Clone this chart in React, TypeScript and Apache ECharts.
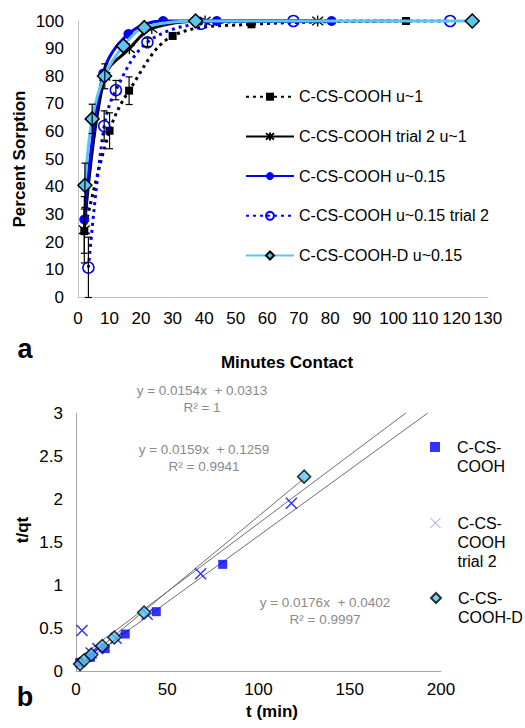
import React, { useEffect, useRef } from "react";
import * as echarts from "echarts";

// ---------- Top chart (a): Percent Sorption vs Minutes Contact ----------
const tU1 = [2, 10, 16.2, 30, 55, 104];
const pU1 = [24, 60.3, 74.8, 94.6, 98.8, 100];
const eU1 = [8, 6.5, 5, 1, 0, 0];

const tT2U1 = [2, 8.5, 16.3, 23.4, 40.3, 76];
const pT2U1 = [24.5, 80, 90, 97.3, 100, 100];
const eT2U1 = [12, 4.5, 0, 0, 0, 0];

const tU015 = [2, 8, 16, 27, 44, 80.4];
const pU015 = [28.2, 81, 95.3, 100, 100, 100];

const tU015T2 = [3.3, 8.3, 12, 22, 39, 68.3, 118];
const pU015T2 = [10.8, 62, 75, 92.3, 99, 100, 100];
const eU015T2 = [11, 5.5, 3.5, 1.5, 0, 0, 0];

const tD = [2.2, 4.5, 8.4, 14.4, 21, 37.3, 125];
const pD = [40.6, 64.6, 80.1, 91, 97.6, 100, 100];
const eD = [8, 5.3, 0, 0, 0, 0, 0];

const topNames = [
  "C-CS-COOH u~1",
  "C-CS-COOH trial 2 u~1",
  "C-CS-COOH u~0.15",
  "C-CS-COOH u~0.15 trial 2",
  "C-CS-COOH-D u~0.15",
];

// ---------- Bottom chart (b): t/qt vs t (min) ----------
const qCOOH = [0.1, 0.16, 0.26, 0.43, 0.69, 1.24]; // at tU015
const qT2 = [0.47, 0.21, 0.26, 0.38, 0.66, 1.13, 1.95]; // at tU015T2
const qD = [0.08, 0.125, 0.19, 0.29, 0.39, 0.68, 2.26]; // at tD

const bottomNames = ["C-CS-COOH", "C-CS-COOH trial 2", "C-CS-COOH-D"];
const bottomLegendLines = [["C-CS-", "COOH"], ["C-CS-", "COOH", "trial 2"], ["C-CS-", "COOH-D"]];
const trendSlope = [0.0154, 0.0159, 0.0176];
const trendIntercept = [0.0313, 0.1259, 0.0402];
const trendEnd = [192.8, 180.8, 125];
const trendLabels = [
  "y = 0.0154x  + 0.0313\nR² = 1",
  "y = 0.0159x  + 0.1259\nR² = 0.9941",
  "y = 0.0176x  + 0.0402\nR² = 0.9997",
];

const FONT = "'Liberation Sans', Arial, sans-serif";
const BLUE = "#0000FF";
const LIGHT = "#5BC5F2";
const STAR = "path://M0,0L10,10M10,0L0,10M5,-1.5L5,11.5";
const CROSS = "path://M0,0L10,10M10,0L0,10";

const zip = (a: number[], b: number[]) => a.map((v, i) => [v, b[i]]);
const bars = (t: number[], p: number[], e: number[]) =>
  t.map((v, i) => [v, Math.max(0, p[i] - e[i]), p[i] + e[i]]).filter((_, i) => e[i] > 0);

export default function App() {
  const ref = useRef<HTMLDivElement>(null);
  useEffect(() => {
    if (!ref.current) return;
    const chart = echarts.init(ref.current, undefined, { renderer: "svg" });
    const axisLabel = { fontSize: 17, color: "#000", fontFamily: FONT };
    const errData = [
      ...bars(tU1, pU1, eU1),
      ...bars(tT2U1, pT2U1, eT2U1),
      ...bars(tU015T2, pU015T2, eU015T2),
      ...bars(tD, pD, eD),
    ];
    const legendTxt = {
      fontSize: 16,
      lineHeight: 19,
      color: "#000",
      fontFamily: FONT,
      padding: [0, 0, 0, 12],
    };
    // prepend blank lines so the first text line sits beside the marker
    const wrapLegend = (lines: string[]) =>
      "\n".repeat(lines.length - 1) + lines.join("\n");
    const option: any = {
      animation: false,
      textStyle: { fontFamily: FONT },
      grid: [
        { left: 78, right: 37, top: 21, bottom: 430.5 },
        { left: 76, right: 84, top: 413, bottom: 57 },
      ],
      xAxis: [
        {
          gridIndex: 0, type: "value", min: 0, max: 130, interval: 10,
          axisLine: { lineStyle: { color: "#BFBFBF" } },
          axisTick: { show: false }, splitLine: { show: false },
          axisLabel: { ...axisLabel, margin: 12 },
        },
        {
          gridIndex: 1, type: "value", min: 0, max: 200, interval: 50,
          axisLine: { lineStyle: { color: "#A6A6A6" } },
          axisTick: { show: false }, splitLine: { show: false },
          axisLabel: { ...axisLabel, margin: 10 },
        },
      ],
      yAxis: [
        {
          gridIndex: 0, type: "value", min: 0, max: 100, interval: 10,
          axisLine: { show: true, lineStyle: { color: "#BFBFBF" } },
          axisTick: { show: false }, splitLine: { show: false },
          axisLabel: { ...axisLabel, margin: 14 },
        },
        {
          gridIndex: 1, type: "value", min: 0, max: 3, interval: 0.5,
          axisLine: { show: true, lineStyle: { color: "#A6A6A6" } },
          axisTick: { show: false }, splitLine: { show: false },
          axisLabel: { ...axisLabel, margin: 13 },
        },
      ],
      legend: [
        {
          data: topNames, orient: "vertical", left: 245, top: 88.7, padding: 0,
          itemWidth: 48, itemHeight: 10, itemGap: 23.7,
          textStyle: { fontSize: 16, color: "#000", fontFamily: FONT },
        },
        {
          data: [{ name: bottomNames[0] }], left: 430, top: 418.5, padding: 0,
          itemWidth: 10, itemHeight: 10,
          formatter: () => wrapLegend(bottomLegendLines[0]), textStyle: legendTxt,
        },
        {
          data: [{ name: bottomNames[1], itemStyle: { borderColor: "#8080FF", borderWidth: 1 } }],
          left: 430, top: 475.5, padding: 0, itemWidth: 10, itemHeight: 10,
          formatter: () => wrapLegend(bottomLegendLines[1]), textStyle: legendTxt,
        },
        {
          data: [{ name: bottomNames[2] }], left: 430, top: 569.5, padding: 0,
          itemWidth: 10, itemHeight: 10,
          formatter: () => wrapLegend(bottomLegendLines[2]), textStyle: legendTxt,
        },
      ],
      series: [
        {
          name: topNames[0], type: "line", xAxisIndex: 0, yAxisIndex: 0, data: zip(tU1, pU1),
          smooth: 0.35, clip: false, symbol: "rect", symbolSize: 8,
          itemStyle: { color: "#000" },
          lineStyle: { color: "#000", width: 3, type: [3, 4] },
        },
        {
          name: topNames[1], type: "line", xAxisIndex: 0, yAxisIndex: 0, data: zip(tT2U1, pT2U1),
          smooth: 0.35, clip: false, symbol: STAR, symbolSize: 11,
          itemStyle: { color: "rgba(0,0,0,0)", borderColor: "#000", borderWidth: 1.3 },
          lineStyle: { color: "#000", width: 3 },
        },
        {
          name: topNames[2], type: "line", xAxisIndex: 0, yAxisIndex: 0, data: zip(tU015, pU015),
          smooth: 0.35, clip: false, symbol: "circle", symbolSize: 10,
          itemStyle: { color: BLUE },
          lineStyle: { color: BLUE, width: 3 },
        },
        {
          name: topNames[3], type: "line", xAxisIndex: 0, yAxisIndex: 0, data: zip(tU015T2, pU015T2),
          smooth: 0.35, clip: false, symbol: "circle", symbolSize: 11,
          itemStyle: { color: "rgba(0,0,0,0)", borderColor: BLUE, borderWidth: 1.5 },
          lineStyle: { color: BLUE, width: 3, type: [3, 4] },
        },
        {
          name: topNames[4], type: "line", xAxisIndex: 0, yAxisIndex: 0, data: zip(tD, pD),
          smooth: 0.35, clip: false, symbol: "diamond", symbolSize: 14, z: 4,
          itemStyle: { color: LIGHT, borderColor: "#000", borderWidth: 1.5 },
          lineStyle: { color: LIGHT, width: 3 },
        },
        {
          type: "custom", xAxisIndex: 0, yAxisIndex: 0, data: errData, z: 5, silent: true,
          renderItem: (_p: any, api: any) => {
            const x = api.value(0);
            const lo = api.coord([x, api.value(1)]);
            const hi = api.coord([x, api.value(2)]);
            const w = 3.5;
            const st = { stroke: "#000", lineWidth: 1.2 };
            return {
              type: "group",
              children: [
                { type: "line", shape: { x1: lo[0], y1: lo[1], x2: hi[0], y2: hi[1] }, style: st },
                { type: "line", shape: { x1: lo[0] - w, y1: lo[1], x2: lo[0] + w, y2: lo[1] }, style: st },
                { type: "line", shape: { x1: hi[0] - w, y1: hi[1], x2: hi[0] + w, y2: hi[1] }, style: st },
              ],
            };
          },
        },
        ...trendSlope.map((m, i) => ({
          type: "line", xAxisIndex: 1, yAxisIndex: 1, silent: true, symbol: "none",
          data: [[0, trendIntercept[i]], [trendEnd[i], trendIntercept[i] + m * trendEnd[i]]],
          lineStyle: { color: "#6E6E6E", width: 1 }, z: 1,
        })),
        {
          name: bottomNames[0], type: "scatter", xAxisIndex: 1, yAxisIndex: 1, data: zip(tU015, qCOOH),
          symbol: "rect", symbolSize: 9, itemStyle: { color: BLUE },
        },
        {
          name: bottomNames[1], type: "scatter", xAxisIndex: 1, yAxisIndex: 1, data: zip(tU015T2, qT2),
          symbol: CROSS, symbolSize: 11,
          itemStyle: { color: "rgba(0,0,0,0)", borderColor: BLUE, borderWidth: 1.5 },
        },
        {
          name: bottomNames[2], type: "scatter", xAxisIndex: 1, yAxisIndex: 1, data: zip(tD, qD),
          symbol: "diamond", symbolSize: 13,
          itemStyle: { color: LIGHT, borderColor: "#000", borderWidth: 1.5 },
        },
      ],
      graphic: [
        { type: "text", x: 19, y: 159, rotation: Math.PI / 2,
          style: { text: "Percent Sorption", align: "center", verticalAlign: "middle", font: `bold 17px ${FONT}`, fill: "#000" } },
        { type: "text", x: 287, y: 362,
          style: { text: "Minutes Contact", align: "center", verticalAlign: "middle", font: `bold 17px ${FONT}`, fill: "#000" } },
        { type: "text", x: 25, y: 349,
          style: { text: "a", align: "center", verticalAlign: "middle", font: `bold 27px ${FONT}`, fill: "#000" } },
        { type: "text", x: 25, y: 697,
          style: { text: "b", align: "center", verticalAlign: "middle", font: `bold 27px ${FONT}`, fill: "#000" } },
        { type: "text", x: 22, y: 530, rotation: Math.PI / 2,
          style: { text: "t/qt", align: "center", verticalAlign: "middle", font: `bold 17px ${FONT}`, fill: "#000" } },
        { type: "text", x: 272, y: 711,
          style: { text: "t (min)", align: "center", verticalAlign: "middle", font: `bold 17px ${FONT}`, fill: "#000" } },
        { type: "text", x: 202, y: 398.5,
          style: { text: trendLabels[0], align: "center", verticalAlign: "middle", font: `13.5px ${FONT}`, lineHeight: 17, fill: "#8A8A8A" } },
        { type: "text", x: 204, y: 457.5,
          style: { text: trendLabels[1], align: "center", verticalAlign: "middle", font: `13.5px ${FONT}`, lineHeight: 17, fill: "#8A8A8A" } },
        { type: "text", x: 325, y: 610.5,
          style: { text: trendLabels[2], align: "center", verticalAlign: "middle", font: `13.5px ${FONT}`, lineHeight: 17, fill: "#8A8A8A" } },
      ],
    };
    chart.setOption(option);
    return () => chart.dispose();
  }, []);
  return (
    <div
      ref={ref}
      style={{ position: "absolute", left: 0, top: 0, width: 525, height: 728, background: "#fff" }}
    />
  );
}
